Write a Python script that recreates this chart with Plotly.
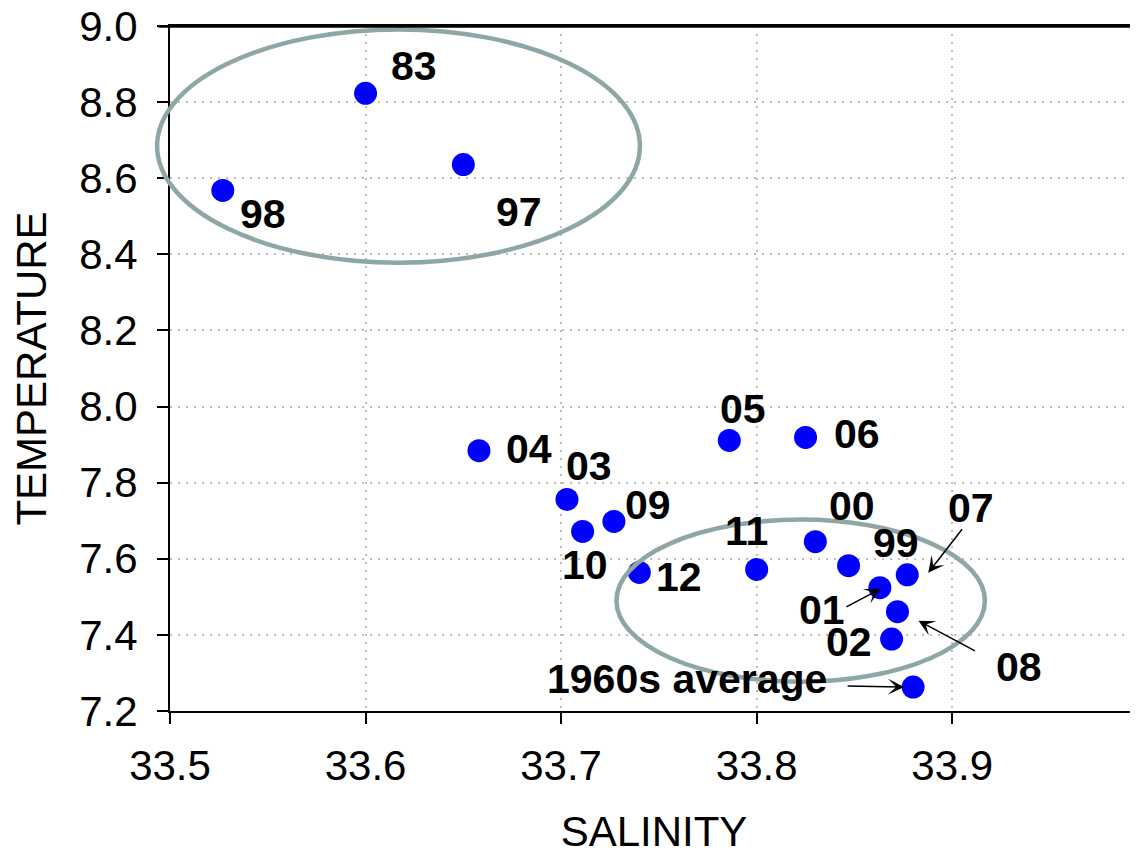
import plotly.graph_objects as go

# ---- data ----
years = ["83", "98", "97", "04", "03", "10", "09", "12", "05", "06",
         "11", "00", "99", "07", "01", "08", "02", "1960s average"]
salinity = [33.600, 33.527, 33.650, 33.658, 33.703, 33.711, 33.727, 33.740, 33.786, 33.825,
            33.800, 33.830, 33.847, 33.877, 33.863, 33.872, 33.869, 33.880]
temperature = [8.823, 8.568, 8.636, 7.884, 7.756, 7.672, 7.698, 7.564, 7.911, 7.919,
               7.572, 7.645, 7.582, 7.558, 7.524, 7.461, 7.389, 7.263]

x_ticks = [33.5, 33.6, 33.7, 33.8, 33.9]
y_ticks = [7.2, 7.4, 7.6, 7.8, 8.0, 8.2, 8.4, 8.6, 8.8, 9.0]

# groups circled (salinity min/max, temperature min/max)
ellipse_sal = [[33.4934, 33.7403], [33.7283, 33.9167]]
ellipse_temp = [[8.378, 8.991], [7.277, 7.703]]

# ---- styling: label pixel offsets (dx right, dy down) ----
label_offsets = {
    "83": (48, -27), "98": (40, 24), "97": (56, 47), "04": (50, -2),
    "03": (22, -33), "10": (2, 34), "09": (34, -16), "12": (40, 5),
    "05": (14, -31), "06": (51, -3), "11": (-10, -38), "00": (37, -36),
    "99": (47, -23), "07": (64, -67), "01": (-58, 22), "08": (122, 55),
    "02": (-43, 3), "1960s average": (-226, -8),
}
# arrows: label -> (head offset from point, tail offset from head) in pixels
arrow_specs = {
    "07": ((21, -2), (35, -45)),
    "01": ((1, 1), (-36, 19)),
    "08": ((21, 9), (58, 31)),
    "1960s average": ((-9, 0), (-58, -1)),
}

x_range = [33.5, 33.995]
y_range = [7.2, 9.0]

FONT = "Liberation Sans, Arial, sans-serif"

fig = go.Figure()
fig.add_trace(go.Scatter(
    x=salinity, y=temperature, mode="markers",
    marker=dict(color="#0000FF", size=23, line=dict(width=0)),
    cliponaxis=False, showlegend=False, hoverinfo="skip",
))

annotations = []
for name, sx, ty in zip(years, salinity, temperature):
    dx, dy = label_offsets[name]
    annotations.append(dict(
        x=sx, y=ty, xref="x", yref="y", text=name, showarrow=False,
        xshift=dx, yshift=-dy,
        font=dict(family=FONT, size=41, color="black", weight="bold"),
    ))
    if name in arrow_specs:
        (hx, hy), (tx, tyy) = arrow_specs[name]
        annotations.append(dict(
            x=sx, y=ty, xref="x", yref="y", text="", showarrow=True,
            xshift=hx, yshift=-hy, ax=tx, ay=tyy,
            arrowhead=3, arrowsize=1.8, arrowwidth=1.5, arrowcolor="black",
        ))


def to_paper_x(v):
    return (v - x_range[0]) / (x_range[1] - x_range[0])


def to_paper_y(v):
    return (v - y_range[0]) / (y_range[1] - y_range[0])


shapes = []
for (s0, s1), (t0, t1) in zip(ellipse_sal, ellipse_temp):
    shapes.append(dict(
        type="circle", xref="paper", yref="paper",
        x0=to_paper_x(s0), x1=to_paper_x(s1), y0=to_paper_y(t0), y1=to_paper_y(t1),
        line=dict(color="#8FA6A6", width=4.5), layer="above",
    ))
# top frame line of the plot area
shapes.append(dict(type="line", xref="paper", yref="paper", x0=-0.012, x1=1, y0=0.999, y1=0.999,
                   line=dict(color="black", width=2), layer="above"))

# page body has an 8px default margin, so the figure is sized to fit the window
fig.update_layout(
    width=1130, height=847,
    margin=dict(l=162, r=0, t=18, b=144),
    paper_bgcolor="white", plot_bgcolor="white",
    font=dict(family=FONT, color="black"),
    annotations=annotations, shapes=shapes,
    showlegend=False,
)
fig.update_xaxes(
    range=x_range, tickvals=x_ticks, ticktext=[f"{v:.1f}" for v in x_ticks],
    showline=True, linecolor="black", linewidth=2, mirror=True,
    ticks="outside", ticklen=11, tickwidth=2, tickcolor="black",
    tickfont=dict(size=42, family=FONT), ticklabelstandoff=6, ticklabeloverflow="allow",
    showgrid=True, gridcolor="#BDBDBD", gridwidth=1.5, griddash="2px,6px",
    zeroline=False, automargin=False,
    title=dict(text="SALINITY", font=dict(size=42, family=FONT), standoff=34),
)
fig.update_yaxes(
    range=y_range, tickvals=y_ticks, ticktext=[f"{v:.1f}" for v in y_ticks],
    showline=True, linecolor="black", linewidth=2, mirror=False,
    ticks="outside", ticklen=11, tickwidth=2, tickcolor="black",
    tickfont=dict(size=42, family=FONT), ticklabelstandoff=11, ticklabeloverflow="allow",
    showgrid=True, gridcolor="#BDBDBD", gridwidth=1.5, griddash="2px,6px",
    zeroline=False, automargin=False,
    title=dict(text="TEMPERATURE", font=dict(size=42, family=FONT), standoff=23),
)

fig.write_html("out.html")
